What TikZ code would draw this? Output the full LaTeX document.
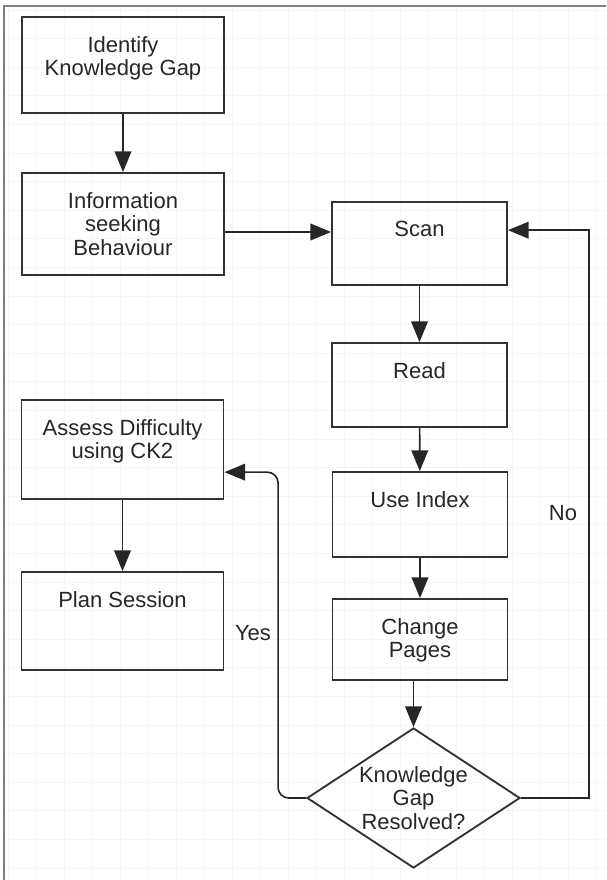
\documentclass[tikz,border=0pt]{standalone}
\usepackage{fontspec}
\setmainfont{Liberation Sans}
\usetikzlibrary{shapes.geometric}
\usetikzlibrary{arrows.meta}

\begin{document}
\begin{tikzpicture}[x=0.75pt,y=-0.75pt,
    txt/.style={inner sep=0pt,align=center,text=black!85,font=\fontsize{16.5}{17.6}\selectfont},
    every label/.style={txt},
    box/.style={draw=black!80,line width=1.4pt,minimum width=151.5pt,minimum height=73.5pt,inner sep=0pt,
                label={[anchor=north,yshift=-15pt]north:#1}},
    rbox/.style={box=#1,minimum width=131.25pt,minimum height=63pt},
    test/.style={diamond,draw=black!80,line width=1.4pt,aspect=1.52,minimum width=159.75pt,minimum height=105pt,txt,inner sep=0.5pt},
    arrow/.style={draw=black!85,line width=1.2pt,-{Triangle[length=15.5pt,width=12.5pt]}},
    gridline/.style={draw=black!3.5,line width=0.6pt}]
            \useasboundingbox (0,0) rectangle (606,880);

            % background grid and frame
            \foreach \gx in {8,36,...,606}
                \draw[gridline] (\gx,6) -- (\gx,880);
            \foreach \gy in {10,38.6,...,880}
                \draw[gridline] (4,\gy) -- (606,\gy);
            \draw[black!50,line width=1pt] (606,6) -- (4,6) -- (4,880);

            % left column
            \node[box={Identify\\Knowledge Gap},minimum height=72pt] (gap) at (123,65) {};
            \node[box={Information\\seeking\\Behaviour},minimum height=76.5pt] (info) at (123,224) {};
            \node[box={Assess Difficulty\\using CK2},minimum height=74.25pt] (assess) at (122.5,449.5) {};
            \node[box={Plan Session}] (plan) at (122.5,621) {};

            % right column
            \node[rbox={Scan},minimum height=62.25pt] (scan) at (419.5,243.5) {};
            \node[rbox={Read}] (read) at (419.5,385) {};
            \node[rbox={Use Index},minimum height=63.75pt] (index) at (420,514.5) {};
            \node[rbox={Change\\Pages},minimum height=60.75pt] (change) at (420,639.5) {};
            \node[test] (resolved) at (413.5,798) {Knowledge\\Gap\\Resolved?};

            \node[txt] (yes) at (253,633) {Yes};
            \node[txt] (no) at (563,513) {No};

            \draw[arrow] (gap) -- (info);
            \draw[arrow] ([yshift=-6pt]info.east) -- ([yshift=-6pt]info.east -| scan.west);
            \draw[arrow] (scan) -- (read);
            \draw[arrow] (read) -- (index);
            \draw[arrow] (index) -- (change);
            \draw[arrow] (change.south -| resolved.north) -- (resolved.north);
            \draw[arrow] (resolved.east) -- ++(68,0) |- ([yshift=10pt]scan.east);
            \draw[arrow,rounded corners=8pt] (resolved.west) -- ++(-28,0) |- ([yshift=-17pt]assess.east);
            \draw[arrow] (assess) -- (plan);
          \end{tikzpicture}
\end{document}
